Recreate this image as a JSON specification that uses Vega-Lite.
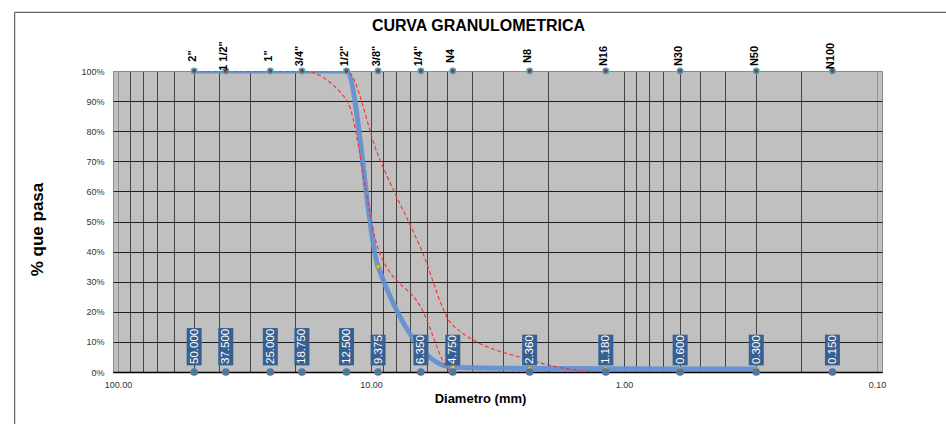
{
  "$schema": "https://vega.github.io/schema/vega-lite/v6.json",
  "width": 769,
  "height": 301,
  "autosize": {"type": "none"},
  "padding": {"left": 113, "top": 71, "right": 64, "bottom": 52},
  "background": "white",
  "config": {
    "font": "Liberation Sans",
    "view": {"fill": "#c0c0c0", "stroke": "#8a8a8a", "strokeWidth": 1},
    "axisX": {
      "labelOverlap": false, "labelFlush": false, "labelFontSize": 9, "labelColor": "#333333", "labelPadding": 8,
      "ticks": false, "grid": true, "gridOpacity": 0.85, "gridWidth": 1,
      "domainColor": "#000000", "domainWidth": 1.5,
      "titleFontSize": 13, "titleFontWeight": "bold", "titleColor": "#000000", "titlePadding": 3
    },
    "axisY": {
      "labelOverlap": false, "labelFontSize": 9, "labelColor": "#333333", "labelPadding": 9,
      "ticks": false, "domain": false, "grid": true, "gridWidth": 1,
      "titleFontSize": 17, "titleFontWeight": "bold", "titleColor": "#000000", "titlePadding": 34
    }
  },
  "title": {
    "text": "CURVA GRANULOMETRICA",
    "font": "Liberation Sans",
    "fontSize": 16,
    "fontWeight": "bold",
    "color": "#000000",
    "anchor": "middle",
    "dx": -19,
    "offset": -22
  },
  "datasets": {
    "tamices": [
      {"tamiz": "2\"", "abertura": 50, "label": "50.000", "pasa": 100, "inf": 100, "sup": 100},
      {"tamiz": "1 1/2\"", "abertura": 37.5, "label": "37.500", "pasa": 100, "inf": 100, "sup": 100},
      {"tamiz": "1\"", "abertura": 25, "label": "25.000", "pasa": 100, "inf": 100, "sup": 100},
      {"tamiz": "3/4\"", "abertura": 18.75, "label": "18.750", "pasa": 100, "inf": 100, "sup": 100},
      {"tamiz": "1/2\"", "abertura": 12.5, "label": "12.500", "pasa": 100, "inf": 90.5, "sup": 100},
      {"tamiz": "3/8\"", "abertura": 9.375, "label": "9.375", "pasa": 35, "inf": 41, "sup": 72},
      {"tamiz": "1/4\"", "abertura": 6.35, "label": "6.350", "pasa": null, "inf": 21.5, "sup": 41},
      {"tamiz": "N4", "abertura": 4.75, "label": "4.750", "pasa": 1.6, "inf": 0, "sup": 15.5},
      {"tamiz": "N8", "abertura": 2.36, "label": "2.360", "pasa": 1.2, "inf": 0, "sup": 4},
      {"tamiz": "N16", "abertura": 1.18, "label": "1.180", "pasa": 1.1, "inf": 0, "sup": 0},
      {"tamiz": "N30", "abertura": 0.6, "label": "0.600", "pasa": 1.0, "inf": 0, "sup": 0},
      {"tamiz": "N50", "abertura": 0.3, "label": "0.300", "pasa": 1.0, "inf": 0, "sup": 0},
      {"tamiz": "N100", "abertura": 0.15, "label": "0.150", "pasa": null, "inf": null, "sup": null}
    ]
  },
  "layer": [
    {
      "data": {"values": [{}]},
      "mark": {"type": "rule", "color": "#404040", "strokeWidth": 1, "clip": false},
      "encoding": {
        "x": {"datum": 256, "type": "quantitative", "scale": {"type": "log", "domain": [0.1, 100], "reverse": true, "nice": false}, "axis": {"title": "Diametro  (mm)", "values": [100, 90, 80, 70, 60, 50, 40, 30, 20, 10, 9, 8, 7, 6, 5, 4, 3, 2, 1, 0.9, 0.8, 0.7, 0.6, 0.5, 0.4, 0.3, 0.2, 0.1], "labelExpr": "(datum.value == 100 || datum.value == 10 || datum.value == 1 || datum.value == 0.1) ? format(datum.value, '.2f') : ''", "gridColor": {"condition": {"test": "datum.value == 100 || datum.value == 0.1", "value": "#8a8a8a"}, "value": "#2e2e2e"}, "titleX": 367}},
        "x2": {"datum": 0.02},
        "y": {"datum": 119.5, "type": "quantitative", "scale": {"domain": [0, 100], "nice": false}, "axis": {"title": "% que pasa", "values": [0, 10, 20, 30, 40, 50, 60, 70, 80, 90, 100], "labelExpr": "datum.value + '%'", "gridColor": {"condition": {"test": "datum.value == 100", "value": "#8a8a8a"}, "value": "#1e1e1e"}, "titleY": 158}}
      }
    },
    {
      "data": {"values": [{}]},
      "mark": {"type": "rule", "color": "#404040", "strokeWidth": 1, "clip": false},
      "encoding": {
        "x": {"datum": 256, "type": "quantitative", "scale": {"type": "log", "domain": [0.1, 100], "reverse": true, "nice": false}, "axis": {"title": "Diametro  (mm)", "values": [100, 90, 80, 70, 60, 50, 40, 30, 20, 10, 9, 8, 7, 6, 5, 4, 3, 2, 1, 0.9, 0.8, 0.7, 0.6, 0.5, 0.4, 0.3, 0.2, 0.1], "labelExpr": "(datum.value == 100 || datum.value == 10 || datum.value == 1 || datum.value == 0.1) ? format(datum.value, '.2f') : ''", "gridColor": {"condition": {"test": "datum.value == 100 || datum.value == 0.1", "value": "#8a8a8a"}, "value": "#2e2e2e"}, "titleX": 367}},
        "y": {"datum": 119.5, "type": "quantitative", "scale": {"domain": [0, 100], "nice": false}, "axis": {"title": "% que pasa", "values": [0, 10, 20, 30, 40, 50, 60, 70, 80, 90, 100], "labelExpr": "datum.value + '%'", "gridColor": {"condition": {"test": "datum.value == 100", "value": "#8a8a8a"}, "value": "#1e1e1e"}, "titleY": 158}},
        "y2": {"datum": -30}
      }
    },
    {
      "data": {"name": "tamices"},
      "transform": [{"filter": "isValid(datum.pasa)"}],
      "mark": {"type": "line", "interpolate": "monotone", "color": "#6290d0", "strokeWidth": 5, "opacity": 0.92, "clip": true},
      "encoding": {
        "x": {"field": "abertura", "type": "quantitative", "scale": {"type": "log", "domain": [0.1, 100], "reverse": true, "nice": false}, "axis": {"title": "Diametro  (mm)", "values": [100, 90, 80, 70, 60, 50, 40, 30, 20, 10, 9, 8, 7, 6, 5, 4, 3, 2, 1, 0.9, 0.8, 0.7, 0.6, 0.5, 0.4, 0.3, 0.2, 0.1], "labelExpr": "(datum.value == 100 || datum.value == 10 || datum.value == 1 || datum.value == 0.1) ? format(datum.value, '.2f') : ''", "gridColor": {"condition": {"test": "datum.value == 100 || datum.value == 0.1", "value": "#8a8a8a"}, "value": "#2e2e2e"}, "titleX": 367}},
        "y": {"field": "pasa", "type": "quantitative", "scale": {"domain": [0, 100], "nice": false}, "axis": {"title": "% que pasa", "values": [0, 10, 20, 30, 40, 50, 60, 70, 80, 90, 100], "labelExpr": "datum.value + '%'", "gridColor": {"condition": {"test": "datum.value == 100", "value": "#8a8a8a"}, "value": "#1e1e1e"}, "titleY": 158}}
      }
    },
    {
      "data": {"name": "tamices"},
      "transform": [
        {"fold": ["inf", "sup"], "as": ["limite", "valor"]},
        {"filter": "isValid(datum.valor)"}
      ],
      "mark": {"type": "line", "interpolate": "monotone", "color": "#ff2b2b", "strokeWidth": 1.1, "strokeDash": [4, 2.5], "clip": true},
      "encoding": {
        "x": {"field": "abertura", "type": "quantitative", "scale": {"type": "log", "domain": [0.1, 100], "reverse": true, "nice": false}, "axis": {"title": "Diametro  (mm)", "values": [100, 90, 80, 70, 60, 50, 40, 30, 20, 10, 9, 8, 7, 6, 5, 4, 3, 2, 1, 0.9, 0.8, 0.7, 0.6, 0.5, 0.4, 0.3, 0.2, 0.1], "labelExpr": "(datum.value == 100 || datum.value == 10 || datum.value == 1 || datum.value == 0.1) ? format(datum.value, '.2f') : ''", "gridColor": {"condition": {"test": "datum.value == 100 || datum.value == 0.1", "value": "#8a8a8a"}, "value": "#2e2e2e"}, "titleX": 367}},
        "y": {"field": "valor", "type": "quantitative", "scale": {"domain": [0, 100], "nice": false}, "axis": {"title": "% que pasa", "values": [0, 10, 20, 30, 40, 50, 60, 70, 80, 90, 100], "labelExpr": "datum.value + '%'", "gridColor": {"condition": {"test": "datum.value == 100", "value": "#8a8a8a"}, "value": "#1e1e1e"}, "titleY": 158}},
        "detail": {"field": "limite"}
      }
    },
    {
      "data": {"name": "tamices"},
      "transform": [{"filter": "isValid(datum.pasa)"}],
      "mark": {"type": "circle", "size": 16, "fill": "#ffc000", "stroke": "#c08a00", "strokeWidth": 0.6, "opacity": 1},
      "encoding": {
        "x": {"field": "abertura", "type": "quantitative", "scale": {"type": "log", "domain": [0.1, 100], "reverse": true, "nice": false}, "axis": {"title": "Diametro  (mm)", "values": [100, 90, 80, 70, 60, 50, 40, 30, 20, 10, 9, 8, 7, 6, 5, 4, 3, 2, 1, 0.9, 0.8, 0.7, 0.6, 0.5, 0.4, 0.3, 0.2, 0.1], "labelExpr": "(datum.value == 100 || datum.value == 10 || datum.value == 1 || datum.value == 0.1) ? format(datum.value, '.2f') : ''", "gridColor": {"condition": {"test": "datum.value == 100 || datum.value == 0.1", "value": "#8a8a8a"}, "value": "#2e2e2e"}, "titleX": 367}},
        "y": {"field": "pasa", "type": "quantitative", "scale": {"domain": [0, 100], "nice": false}, "axis": {"title": "% que pasa", "values": [0, 10, 20, 30, 40, 50, 60, 70, 80, 90, 100], "labelExpr": "datum.value + '%'", "gridColor": {"condition": {"test": "datum.value == 100", "value": "#8a8a8a"}, "value": "#1e1e1e"}, "titleY": 158}}
      }
    },
    {
      "data": {"name": "tamices"},
      "mark": {"type": "circle", "size": 30, "fill": "#953735", "stroke": "#4bacc6", "strokeWidth": 1.5, "opacity": 1},
      "encoding": {
        "x": {"field": "abertura", "type": "quantitative", "scale": {"type": "log", "domain": [0.1, 100], "reverse": true, "nice": false}, "axis": {"title": "Diametro  (mm)", "values": [100, 90, 80, 70, 60, 50, 40, 30, 20, 10, 9, 8, 7, 6, 5, 4, 3, 2, 1, 0.9, 0.8, 0.7, 0.6, 0.5, 0.4, 0.3, 0.2, 0.1], "labelExpr": "(datum.value == 100 || datum.value == 10 || datum.value == 1 || datum.value == 0.1) ? format(datum.value, '.2f') : ''", "gridColor": {"condition": {"test": "datum.value == 100 || datum.value == 0.1", "value": "#8a8a8a"}, "value": "#2e2e2e"}, "titleX": 367}},
        "y": {"datum": 100, "type": "quantitative", "scale": {"domain": [0, 100], "nice": false}, "axis": {"title": "% que pasa", "values": [0, 10, 20, 30, 40, 50, 60, 70, 80, 90, 100], "labelExpr": "datum.value + '%'", "gridColor": {"condition": {"test": "datum.value == 100", "value": "#8a8a8a"}, "value": "#1e1e1e"}, "titleY": 158}}
      }
    },
    {
      "data": {"name": "tamices"},
      "mark": {"type": "circle", "size": 42, "fill": "#31859c", "stroke": "#8064a2", "strokeWidth": 1.2, "opacity": 1},
      "encoding": {
        "x": {"field": "abertura", "type": "quantitative", "scale": {"type": "log", "domain": [0.1, 100], "reverse": true, "nice": false}, "axis": {"title": "Diametro  (mm)", "values": [100, 90, 80, 70, 60, 50, 40, 30, 20, 10, 9, 8, 7, 6, 5, 4, 3, 2, 1, 0.9, 0.8, 0.7, 0.6, 0.5, 0.4, 0.3, 0.2, 0.1], "labelExpr": "(datum.value == 100 || datum.value == 10 || datum.value == 1 || datum.value == 0.1) ? format(datum.value, '.2f') : ''", "gridColor": {"condition": {"test": "datum.value == 100 || datum.value == 0.1", "value": "#8a8a8a"}, "value": "#2e2e2e"}, "titleX": 367}},
        "y": {"datum": 0, "type": "quantitative", "scale": {"domain": [0, 100], "nice": false}, "axis": {"title": "% que pasa", "values": [0, 10, 20, 30, 40, 50, 60, 70, 80, 90, 100], "labelExpr": "datum.value + '%'", "gridColor": {"condition": {"test": "datum.value == 100", "value": "#8a8a8a"}, "value": "#1e1e1e"}, "titleY": 158}}
      }
    },
    {
      "data": {"name": "tamices"},
      "transform": [{"filter": "length(datum.label) == 6"}],
      "mark": {"type": "bar", "size": 15, "color": "#366092"},
      "encoding": {
        "x": {"field": "abertura", "type": "quantitative", "scale": {"type": "log", "domain": [0.1, 100], "reverse": true, "nice": false}, "axis": {"title": "Diametro  (mm)", "values": [100, 90, 80, 70, 60, 50, 40, 30, 20, 10, 9, 8, 7, 6, 5, 4, 3, 2, 1, 0.9, 0.8, 0.7, 0.6, 0.5, 0.4, 0.3, 0.2, 0.1], "labelExpr": "(datum.value == 100 || datum.value == 10 || datum.value == 1 || datum.value == 0.1) ? format(datum.value, '.2f') : ''", "gridColor": {"condition": {"test": "datum.value == 100 || datum.value == 0.1", "value": "#8a8a8a"}, "value": "#2e2e2e"}, "titleX": 367}},
        "y": {"datum": 14.6, "type": "quantitative", "scale": {"domain": [0, 100], "nice": false}, "axis": {"title": "% que pasa", "values": [0, 10, 20, 30, 40, 50, 60, 70, 80, 90, 100], "labelExpr": "datum.value + '%'", "gridColor": {"condition": {"test": "datum.value == 100", "value": "#8a8a8a"}, "value": "#1e1e1e"}, "titleY": 158}},
        "y2": {"datum": 2.2}
      }
    },
    {
      "data": {"name": "tamices"},
      "transform": [{"filter": "length(datum.label) == 5"}],
      "mark": {"type": "bar", "size": 15, "color": "#366092"},
      "encoding": {
        "x": {"field": "abertura", "type": "quantitative", "scale": {"type": "log", "domain": [0.1, 100], "reverse": true, "nice": false}, "axis": {"title": "Diametro  (mm)", "values": [100, 90, 80, 70, 60, 50, 40, 30, 20, 10, 9, 8, 7, 6, 5, 4, 3, 2, 1, 0.9, 0.8, 0.7, 0.6, 0.5, 0.4, 0.3, 0.2, 0.1], "labelExpr": "(datum.value == 100 || datum.value == 10 || datum.value == 1 || datum.value == 0.1) ? format(datum.value, '.2f') : ''", "gridColor": {"condition": {"test": "datum.value == 100 || datum.value == 0.1", "value": "#8a8a8a"}, "value": "#2e2e2e"}, "titleX": 367}},
        "y": {"datum": 12.4, "type": "quantitative", "scale": {"domain": [0, 100], "nice": false}, "axis": {"title": "% que pasa", "values": [0, 10, 20, 30, 40, 50, 60, 70, 80, 90, 100], "labelExpr": "datum.value + '%'", "gridColor": {"condition": {"test": "datum.value == 100", "value": "#8a8a8a"}, "value": "#1e1e1e"}, "titleY": 158}},
        "y2": {"datum": 2.2}
      }
    },
    {
      "data": {"name": "tamices"},
      "mark": {"type": "text", "angle": 270, "align": "left", "baseline": "middle", "dx": 8, "dy": 0.5, "fontSize": 11.5, "color": "#ffffff"},
      "encoding": {
        "x": {"field": "abertura", "type": "quantitative", "scale": {"type": "log", "domain": [0.1, 100], "reverse": true, "nice": false}, "axis": {"title": "Diametro  (mm)", "values": [100, 90, 80, 70, 60, 50, 40, 30, 20, 10, 9, 8, 7, 6, 5, 4, 3, 2, 1, 0.9, 0.8, 0.7, 0.6, 0.5, 0.4, 0.3, 0.2, 0.1], "labelExpr": "(datum.value == 100 || datum.value == 10 || datum.value == 1 || datum.value == 0.1) ? format(datum.value, '.2f') : ''", "gridColor": {"condition": {"test": "datum.value == 100 || datum.value == 0.1", "value": "#8a8a8a"}, "value": "#2e2e2e"}, "titleX": 367}},
        "y": {"datum": 0, "type": "quantitative", "scale": {"domain": [0, 100], "nice": false}, "axis": {"title": "% que pasa", "values": [0, 10, 20, 30, 40, 50, 60, 70, 80, 90, 100], "labelExpr": "datum.value + '%'", "gridColor": {"condition": {"test": "datum.value == 100", "value": "#8a8a8a"}, "value": "#1e1e1e"}, "titleY": 158}},
        "text": {"field": "label"}
      }
    },
    {
      "data": {"name": "tamices"},
      "mark": {"type": "text", "angle": 270, "align": "center", "baseline": "middle", "dx": 15, "dy": -1.5, "fontSize": 11, "fontWeight": "bold", "color": "#000000"},
      "encoding": {
        "x": {"field": "abertura", "type": "quantitative", "scale": {"type": "log", "domain": [0.1, 100], "reverse": true, "nice": false}, "axis": {"title": "Diametro  (mm)", "values": [100, 90, 80, 70, 60, 50, 40, 30, 20, 10, 9, 8, 7, 6, 5, 4, 3, 2, 1, 0.9, 0.8, 0.7, 0.6, 0.5, 0.4, 0.3, 0.2, 0.1], "labelExpr": "(datum.value == 100 || datum.value == 10 || datum.value == 1 || datum.value == 0.1) ? format(datum.value, '.2f') : ''", "gridColor": {"condition": {"test": "datum.value == 100 || datum.value == 0.1", "value": "#8a8a8a"}, "value": "#2e2e2e"}, "titleX": 367}},
        "y": {"datum": 100, "type": "quantitative", "scale": {"domain": [0, 100], "nice": false}, "axis": {"title": "% que pasa", "values": [0, 10, 20, 30, 40, 50, 60, 70, 80, 90, 100], "labelExpr": "datum.value + '%'", "gridColor": {"condition": {"test": "datum.value == 100", "value": "#8a8a8a"}, "value": "#1e1e1e"}, "titleY": 158}},
        "text": {"field": "tamiz"}
      }
    }
  ]
}
